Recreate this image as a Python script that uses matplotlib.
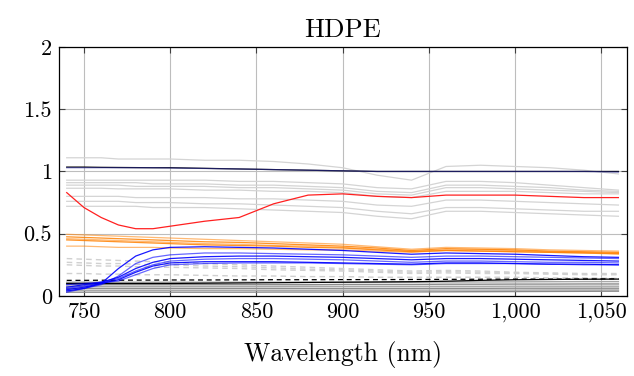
"""HDPE reflectance spectra, redrawn in the pgfplots look of the reference."""
import matplotlib

matplotlib.use("Agg")
import matplotlib.pyplot as plt  # noqa: E402

plt.rcParams["font.family"] = ["cmr10", "DejaVu Serif"]
plt.rcParams["axes.formatter.use_mathtext"] = True
plt.rcParams["font.size"] = 16

# ---- data --------------------------------------------------------------------
wavelength = [740, 750, 760, 770, 780, 790, 800, 820, 840, 860,
              880, 900, 920, 940, 960, 980, 1000, 1020, 1040, 1060]

light_gray = [
    [1.11, 1.11, 1.11, 1.10, 1.10, 1.10, 1.10, 1.09, 1.09, 1.08, 1.06, 1.03, 0.97, 0.93, 1.04, 1.05, 1.04, 1.03, 1.01, 0.98],
    [0.93, 0.93, 0.93, 0.93, 0.93, 0.93, 0.93, 0.93, 0.92, 0.92, 0.91, 0.90, 0.87, 0.86, 0.92, 0.92, 0.91, 0.89, 0.87, 0.85],
    [0.91, 0.91, 0.91, 0.91, 0.91, 0.90, 0.90, 0.90, 0.89, 0.89, 0.88, 0.87, 0.84, 0.83, 0.89, 0.89, 0.88, 0.87, 0.85, 0.84],
    [0.89, 0.89, 0.89, 0.89, 0.88, 0.88, 0.88, 0.88, 0.87, 0.87, 0.86, 0.85, 0.82, 0.81, 0.87, 0.87, 0.86, 0.85, 0.84, 0.83],
    [0.865, 0.865, 0.865, 0.86, 0.86, 0.86, 0.86, 0.85, 0.85, 0.84, 0.84, 0.83, 0.80, 0.79, 0.84, 0.84, 0.84, 0.83, 0.82, 0.82],
    [0.80, 0.80, 0.80, 0.80, 0.79, 0.79, 0.79, 0.79, 0.78, 0.78, 0.77, 0.76, 0.73, 0.72, 0.77, 0.77, 0.76, 0.75, 0.74, 0.73],
    [0.76, 0.76, 0.76, 0.76, 0.75, 0.75, 0.75, 0.74, 0.74, 0.73, 0.72, 0.71, 0.68, 0.66, 0.71, 0.71, 0.70, 0.69, 0.68, 0.68],
    [0.72, 0.72, 0.72, 0.72, 0.72, 0.71, 0.71, 0.71, 0.70, 0.69, 0.68, 0.67, 0.64, 0.62, 0.68, 0.68, 0.67, 0.66, 0.65, 0.64],
]

light_gray_dashed = [
    [0.30, 0.295, 0.29, 0.285, 0.28, 0.275, 0.27, 0.26, 0.25, 0.24, 0.23, 0.22, 0.21, 0.20, 0.205, 0.20, 0.19, 0.185, 0.18, 0.18],
    [0.27, 0.265, 0.26, 0.26, 0.255, 0.25, 0.25, 0.24, 0.235, 0.225, 0.215, 0.21, 0.20, 0.19, 0.195, 0.19, 0.185, 0.18, 0.175, 0.175],
    [0.25, 0.245, 0.24, 0.24, 0.235, 0.23, 0.23, 0.225, 0.22, 0.21, 0.205, 0.20, 0.19, 0.18, 0.185, 0.18, 0.18, 0.175, 0.17, 0.17],
    [0.18, 0.18, 0.175, 0.175, 0.17, 0.17, 0.17, 0.165, 0.16, 0.16, 0.155, 0.155, 0.15, 0.15, 0.15, 0.15, 0.15, 0.145, 0.145, 0.14],
]

top_black = [1.035, 1.035, 1.033, 1.032, 1.031, 1.03, 1.03, 1.025, 1.02, 1.015, 1.01, 1.005, 1.0, 1.0, 1.0, 1.0, 1.0, 1.0, 1.0, 1.0]
top_navy = [1.03, 1.03, 1.03, 1.03, 1.03, 1.03, 1.028, 1.024, 1.02, 1.015, 1.01, 1.005, 1.0, 1.0, 1.0, 1.0, 1.0, 1.0, 1.0, 0.995]

red = [0.83, 0.71, 0.63, 0.57, 0.54, 0.54, 0.56, 0.60, 0.63, 0.74, 0.81, 0.82, 0.80, 0.79, 0.81, 0.81, 0.81, 0.80, 0.79, 0.79]

orange = [
    [0.495, 0.49, 0.485, 0.48, 0.475, 0.47, 0.465, 0.455, 0.445, 0.435, 0.425, 0.415, 0.395, 0.375, 0.39, 0.385, 0.38, 0.37, 0.365, 0.36],
    [0.475, 0.47, 0.465, 0.46, 0.455, 0.45, 0.445, 0.435, 0.43, 0.42, 0.41, 0.40, 0.385, 0.365, 0.38, 0.375, 0.37, 0.36, 0.355, 0.35],
    [0.46, 0.455, 0.45, 0.445, 0.44, 0.435, 0.43, 0.42, 0.415, 0.405, 0.40, 0.39, 0.375, 0.36, 0.37, 0.37, 0.365, 0.355, 0.35, 0.345],
    [0.45, 0.445, 0.44, 0.435, 0.43, 0.425, 0.42, 0.41, 0.405, 0.40, 0.39, 0.385, 0.37, 0.355, 0.365, 0.36, 0.355, 0.35, 0.345, 0.34],
    [0.40, 0.40, 0.395, 0.39, 0.39, 0.39, 0.385, 0.38, 0.38, 0.375, 0.37, 0.37, 0.36, 0.35, 0.365, 0.36, 0.355, 0.35, 0.345, 0.335],
]

blue = [
    [0.05, 0.07, 0.10, 0.22, 0.32, 0.37, 0.39, 0.395, 0.39, 0.385, 0.375, 0.365, 0.35, 0.335, 0.345, 0.34, 0.335, 0.325, 0.315, 0.31],
    [0.03, 0.06, 0.09, 0.16, 0.26, 0.31, 0.33, 0.345, 0.345, 0.34, 0.335, 0.33, 0.32, 0.31, 0.32, 0.32, 0.315, 0.31, 0.305, 0.30],
    [0.07, 0.09, 0.11, 0.15, 0.22, 0.27, 0.30, 0.315, 0.32, 0.32, 0.315, 0.31, 0.30, 0.29, 0.30, 0.30, 0.295, 0.29, 0.285, 0.28],
    [0.09, 0.10, 0.11, 0.14, 0.20, 0.25, 0.28, 0.295, 0.30, 0.30, 0.295, 0.29, 0.28, 0.27, 0.28, 0.28, 0.275, 0.27, 0.27, 0.265],
    [0.04, 0.06, 0.10, 0.13, 0.19, 0.24, 0.265, 0.275, 0.275, 0.275, 0.27, 0.265, 0.26, 0.255, 0.265, 0.265, 0.26, 0.255, 0.255, 0.25],
    [0.06, 0.08, 0.105, 0.12, 0.17, 0.22, 0.25, 0.26, 0.265, 0.265, 0.265, 0.26, 0.255, 0.25, 0.26, 0.26, 0.26, 0.255, 0.25, 0.25],
]

black_dashed = [0.125, 0.125, 0.126, 0.126, 0.127, 0.127, 0.128, 0.128, 0.129, 0.13, 0.13, 0.131, 0.131, 0.132, 0.133, 0.134, 0.135, 0.135, 0.136, 0.137]
black_low = [0.10, 0.10, 0.10, 0.10, 0.10, 0.10, 0.10, 0.102, 0.104, 0.106, 0.108, 0.11, 0.112, 0.114, 0.118, 0.125, 0.13, 0.132, 0.134, 0.135]

dark_gray = [
    [0.11, 0.11, 0.11, 0.11, 0.11, 0.11, 0.11, 0.11, 0.11, 0.11, 0.11, 0.11, 0.11, 0.11, 0.112, 0.112, 0.113, 0.114, 0.115, 0.115],
    [0.09, 0.09, 0.09, 0.09, 0.09, 0.09, 0.09, 0.09, 0.09, 0.09, 0.09, 0.092, 0.092, 0.092, 0.094, 0.094, 0.095, 0.095, 0.096, 0.096],
    [0.075, 0.075, 0.075, 0.075, 0.075, 0.075, 0.075, 0.075, 0.075, 0.075, 0.076, 0.076, 0.076, 0.076, 0.077, 0.077, 0.078, 0.078, 0.078, 0.078],
    [0.06, 0.06, 0.06, 0.06, 0.06, 0.06, 0.06, 0.06, 0.06, 0.06, 0.06, 0.06, 0.06, 0.06, 0.061, 0.061, 0.062, 0.062, 0.062, 0.062],
    [0.045, 0.045, 0.045, 0.045, 0.045, 0.045, 0.045, 0.045, 0.045, 0.045, 0.045, 0.046, 0.046, 0.046, 0.047, 0.047, 0.047, 0.048, 0.048, 0.048],
    [0.03, 0.03, 0.03, 0.03, 0.03, 0.03, 0.03, 0.03, 0.03, 0.031, 0.031, 0.031, 0.032, 0.032, 0.033, 0.034, 0.035, 0.036, 0.037, 0.038],
]

x_ticks = [750, 800, 850, 900, 950, 1000, 1050]
x_tick_labels = ["750", "800", "850", "900", "950", "1,000", "1,050"]
y_ticks = [0, 0.5, 1, 1.5, 2]
y_tick_labels = ["0", "0.5", "1", "1.5", "2"]

# ---- figure ------------------------------------------------------------------
fig = plt.figure(figsize=(6.34, 3.76), dpi=100)
ax = fig.add_axes([0.093, 0.213, 0.896, 0.662])

for ys in light_gray:
    ax.plot(wavelength, ys, color="#d4d4d4", lw=0.9)
for ys in light_gray_dashed:
    ax.plot(wavelength, ys, color="#d0d0d0", lw=1.0, ls=(0, (4, 3)))
for i, ys in enumerate(dark_gray):
    ax.plot(wavelength, ys, color="#8c8c8c" if i % 2 else "#a8a8a8", lw=1.0)
ax.plot(wavelength, black_low, color="black", lw=0.9)
ax.plot(wavelength, black_dashed, color="black", lw=0.9, ls=(0, (4, 3)))

ax.plot(wavelength, top_black, color="black", lw=0.9)
ax.plot(wavelength, top_navy, color="#3030a0", lw=0.9, alpha=0.6)
ax.plot(wavelength, red, color="#ff2020", lw=0.9)
for i, ys in enumerate(orange):
    ax.plot(wavelength, ys, color="#ff8000", lw=0.9, alpha=0.85 if i % 2 else 0.55)
for i, ys in enumerate(blue):
    ax.plot(wavelength, ys, color="#0000ff", lw=0.9, alpha=0.9 if i % 2 == 0 else 0.6)

ax.set_xlim(735.5, 1065)
ax.set_ylim(0, 2)
ax.set_xticks(x_ticks)
ax.set_xticklabels(x_tick_labels)
ax.set_yticks(y_ticks)
ax.set_yticklabels(y_tick_labels)
ax.tick_params(direction="in", length=4, width=0.8, color="#404040",
               top=True, right=True, pad=5)
ax.grid(True, color="#bdbdbd", lw=0.8)
ax.set_axisbelow(True)
for sp in ax.spines.values():
    sp.set_linewidth(0.9)

ax.set_title("HDPE", pad=7)
ax.set_xlabel("Wavelength (nm)", fontsize=18.5, labelpad=13)

fig.savefig("out.png", dpi=100)
